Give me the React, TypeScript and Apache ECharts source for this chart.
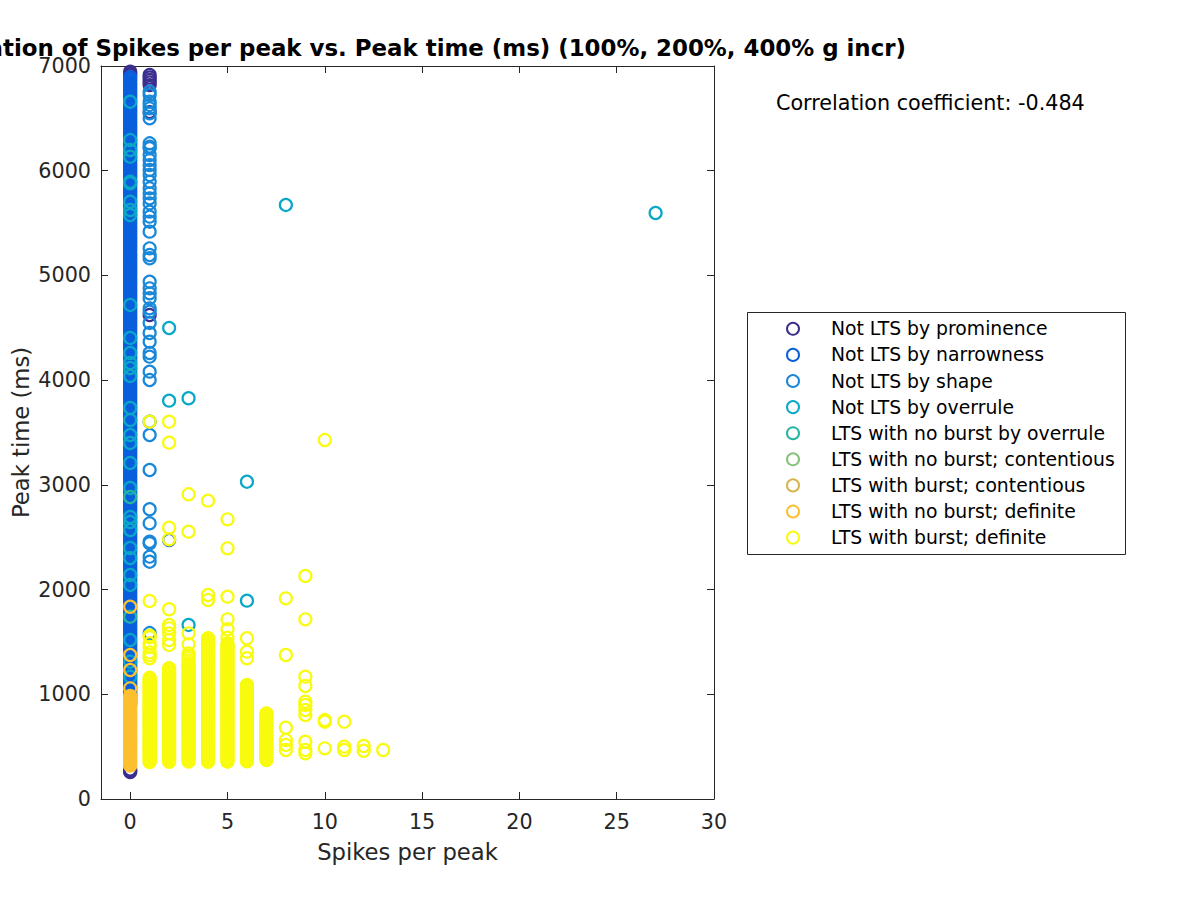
import React, { useEffect, useRef } from "react";
import * as echarts from "echarts";

const FONT = "DejaVu Sans";

const titleText =
  "Correlation of Spikes per peak vs. Peak time (ms) (100%, 200%, 400% g incr)";
const xLabel = "Spikes per peak";
const yLabel = "Peak time (ms)";
const corrText = "Correlation coefficient: -0.484";

const xTicks = [0, 5, 10, 15, 20, 25, 30];

const seriesNames = [
  "Not LTS by prominence",
  "Not LTS by narrowness",
  "Not LTS by shape",
  "Not LTS by overrule",
  "LTS with no burst by overrule",
  "LTS with no burst; contentious",
  "LTS with burst; contentious",
  "LTS with no burst; definite",
  "LTS with burst; definite",
];
const seriesColors = [
  "#3a2e8f",
  "#0a5fdd",
  "#1a88d8",
  "#0aa8c8",
  "#25b5a2",
  "#85c27a",
  "#d7b54b",
  "#fcc030",
  "#f9fb0e",
];

// [spikes per peak, peak time (ms)]
const prominencePoints = [
  [0, 6945], [0, 6928], [0, 6912], [0, 282], [0, 268], [0, 258],
  [1, 6914], [1, 6890], [1, 6866], [1, 6842], [1, 6818], [1, 6560], [1, 4622],
];

const narrownessAtZero = [
  905, 938, 975, 1003, 1041, 1077, 1109, 1146, 1180, 1213, 1251, 1284, 1318, 1357,
  1390, 1422, 1461, 1495, 1530, 1566, 1599, 1636, 1671, 1704, 1742, 1778, 1811,
  1849, 1883, 1918, 1953, 1989, 2024, 2060, 2093, 2131, 2165, 2199, 2236, 2271,
  2306, 2343, 2377, 2410, 2448, 2483, 2519, 2553, 2589, 2624, 2660, 2695, 2729,
  2767, 2801, 2836, 2872, 2907, 2942, 2978, 3012, 3049, 3083, 3118, 3155, 3189,
  3224, 3261, 3295, 3330, 3366, 3401, 3437, 3471, 3507, 3542, 3578, 3612, 3648,
  3684, 3718, 3754, 3789, 3824, 3860, 3895, 3930, 3965, 4001, 4036, 4071, 4107,
  4142, 4177, 4213, 4248, 4283, 4319, 4354, 4389, 4425, 4460, 4495, 4531, 4566,
  4601, 4637, 4672, 4707, 4743, 4778, 4813, 4849, 4884, 4919, 4955, 4990, 5025,
  5061, 5096, 5131, 5167, 5202, 5237, 5273, 5308, 5343, 5379, 5414, 5449, 5485,
  5520, 5555, 5591, 5626, 5661, 5697, 5732, 5767, 5803, 5838, 5873, 5909, 5944,
  5979, 6015, 6050, 6085, 6121, 6156, 6191, 6227, 6262, 6297, 6333, 6368, 6403,
  6439, 6474, 6509, 6545, 6580, 6615, 6651, 6686, 6721, 6757, 6792, 6827, 6863,
  6893,
];
const narrownessAtZeroMore = [
  922, 957, 990, 1022, 1059, 1093, 1128, 1163, 1196, 1232, 1267, 1301, 1338, 1373,
  1406, 1441, 1478, 1512, 1548, 1583, 1617, 1653, 1688, 1723, 1760, 1794, 1830,
  1866, 1900, 1936, 1971, 2006, 2042, 2076, 2112, 2148, 2182, 2218, 2253, 2289,
  2325, 2360, 2394, 2429, 2466, 2501, 2536, 2571, 2606, 2642, 2677, 2712, 2748,
  2784, 2819, 2854, 2889, 2925, 2960, 2995, 3031, 3066, 3101, 3137, 3172, 3207,
  3243, 3278, 3313, 3348, 3384, 3419, 3454, 3489, 3525, 3560, 3595, 3630, 3666,
  3701, 3736, 3771, 3807, 3842, 3877, 3912, 3948, 3983, 4018, 4054, 4089, 4124,
  4160, 4195, 4230, 4266, 4301, 4336, 4372, 4407, 4442, 4478, 4513, 4548, 4584,
  4619, 4654, 4690, 4725, 4760, 4796, 4831, 4866, 4902, 4937, 4972, 5008, 5043,
  5078, 5114, 5149, 5184, 5220, 5255, 5290, 5326, 5361, 5396, 5432, 5467, 5502,
  5538, 5573, 5608, 5644, 5679, 5714, 5750, 5785, 5820, 5856, 5891, 5926, 5962,
  5997, 6032, 6068, 6103, 6138, 6174, 6209, 6244, 6280, 6315, 6350, 6386, 6421,
  6456, 6492, 6527, 6562, 6598, 6633, 6668, 6704, 6739, 6774, 6810, 6845, 6878,
];
const narrownessOther = [[2, 2473]];

const shapeAtOne = [
  6755, 6723, 6659, 6628, 6596, 6548, 6500, 6262, 6230, 6214, 6150, 6102, 6054,
  6007, 5959, 5895, 5832, 5784, 5736, 5688, 5609, 5561, 5513, 5418, 5259, 5195,
  5164, 4940, 4877, 4829, 4782, 4686, 4654, 4546, 4450, 4367, 4259, 4224, 4081,
  4001, 3603, 3476, 3142, 2767, 2633, 2457, 2442, 2314, 2266, 1585,
];

const overrulePoints = [
  [0, 6659], [0, 6293], [0, 6198], [0, 6134], [0, 5895], [0, 5880], [0, 5704],
  [0, 5625], [0, 5577], [0, 4718], [0, 4403], [0, 4259], [0, 4164], [0, 4116],
  [0, 4040], [0, 3734], [0, 3619], [0, 3476], [0, 3400], [0, 3209], [0, 2970],
  [0, 2693], [0, 2645], [0, 2569], [0, 2397], [0, 2301], [0, 2139], [0, 2044],
  [0, 1518], [0, 1311], [0, 1168], [2, 4498], [2, 3804], [3, 3827], [3, 1662],
  [6, 3030], [6, 1894], [8, 5673], [27, 5596],
];

const noBurstOverrulePoints = [[0, 2884], [0, 1741]];
const noBurstContentiousPoints: number[][] = [];
const burstContentiousPoints: number[][] = [];

const noBurstDefiniteAtZero = [
  318, 331, 345, 358, 372, 386, 401, 414, 428, 441, 455, 470, 486, 499, 512, 526,
  540, 555, 569, 583, 597, 610, 624, 638, 652, 666, 681, 694, 708, 722, 736, 750,
  765, 779, 793, 806, 820, 834, 848, 862, 877, 891, 905, 919, 933, 947, 962, 974,
  985, 1057, 1232, 1375, 1836,
];

const burstDefiniteAt1 = [
  3603, 1891, 1560, 1545, 1488, 1452, 1400, 1372, 1344, 1159, 1143, 1127, 1115,
  1104, 1088, 1072, 1060, 1049, 1032, 1016, 1004, 992, 976, 960, 948, 937, 920,
  903, 891, 879, 863, 848, 837, 826, 808, 791, 779, 768, 752, 736, 724, 712, 696,
  680, 668, 657, 640, 624, 612, 601, 585, 569, 558, 547, 530, 512, 500, 488, 475,
  463, 447, 431, 420, 409, 393, 377, 364, 352,
];
const burstDefiniteAt2 = [
  3603, 3403, 2591, 2480, 1812, 1662, 1630, 1582, 1518, 1471, 1250, 1236, 1221,
  1207, 1193, 1179, 1165, 1150, 1137, 1124, 1110, 1096, 1082, 1068, 1054, 1041,
  1026, 1012, 998, 985, 971, 958, 944, 930, 916, 903, 889, 875, 861, 847, 833,
  820, 805, 791, 778, 766, 751, 737, 723, 709, 696, 684, 669, 655, 641, 628, 614,
  600, 586, 573, 559, 545, 532, 519, 504, 490, 478, 466, 451, 437, 423, 410, 396,
  382, 368, 355,
];
const burstDefiniteAt3 = [
  2910, 2553, 1582, 1477, 1391, 1368, 1346, 1320, 1296, 1280, 1264, 1246, 1228,
  1212, 1196, 1180, 1163, 1147, 1131, 1116, 1102, 1085, 1068, 1052, 1037, 1023,
  1009, 993, 977, 962, 948, 932, 916, 900, 884, 868, 853, 838, 824, 808, 792, 776,
  760, 745, 731, 715, 700, 684, 668, 652, 637, 622, 608, 592, 577, 561, 545, 530,
  514, 498, 483, 468, 454, 437, 421, 405, 390, 374, 358,
];
const burstDefiniteAt4 = [
  2849, 1948, 1900, 1535, 1519, 1503, 1485, 1468, 1452, 1437, 1419, 1401, 1387,
  1372, 1355, 1338, 1321, 1305, 1288, 1271, 1256, 1240, 1223, 1207, 1190, 1173,
  1157, 1142, 1125, 1109, 1093, 1078, 1060, 1043, 1027, 1012, 995, 979, 963, 947,
  930, 914, 897, 881, 866, 852, 834, 818, 801, 785, 769, 754, 737, 721, 705, 690,
  673, 657, 640, 624, 608, 593, 577, 561, 544, 528, 512, 497, 480, 464, 448, 432,
  416, 401, 385, 369, 355,
];
const burstDefiniteAt5 = [
  2671, 2394, 1932, 1716, 1621, 1540, 1487, 1471, 1455, 1438, 1421, 1405, 1389,
  1372, 1356, 1340, 1324, 1307, 1291, 1275, 1258, 1242, 1226, 1210, 1194, 1177,
  1160, 1143, 1127, 1111, 1096, 1079, 1063, 1047, 1031, 1014, 998, 982, 966, 949,
  933, 917, 901, 884, 868, 852, 836, 819, 803, 786, 770, 754, 739, 722, 706, 690,
  674, 657, 641, 625, 609, 592, 576, 560, 544, 527, 511, 495, 479, 462, 446, 430,
  414, 397, 381, 368, 356,
];
const burstDefiniteAt6 = [
  1535, 1407, 1344, 1089, 1073, 1058, 1042, 1026, 1010, 994, 979, 963, 947, 931,
  915, 899, 882, 866, 850, 835, 818, 803, 787, 771, 755, 740, 723, 707, 691, 676,
  660, 644, 628, 612, 596, 580, 564, 548, 532, 517, 501, 485, 469, 453, 437, 421,
  405, 389, 374, 360,
];
const burstDefiniteAt7 = [
  818, 802, 786, 768, 751, 735, 718, 704, 690, 674, 658, 640, 622, 606, 590, 573,
  557, 540, 524, 508, 493, 477, 461, 446, 430, 414, 398, 384, 372,
];
const burstDefiniteSparse = [
  [8, 1916], [8, 1375], [8, 681], [8, 563], [8, 516], [8, 468],
  [9, 2130], [9, 1716], [9, 1168], [9, 1079], [9, 929], [9, 898], [9, 850],
  [9, 802], [9, 547], [9, 468], [9, 436],
  [10, 3428], [10, 754], [10, 738], [10, 484],
  [11, 738], [11, 500], [11, 468],
  [12, 506], [12, 461],
  [13, 468],
];

const col = (x: number, ys: number[]) => ys.map((y) => [x, y]);

export default function App() {
  const ref = useRef<HTMLDivElement>(null);

  useEffect(() => {
    if (!ref.current) return;
    const chart = echarts.init(ref.current, undefined, { renderer: "svg" });

    const seriesData: number[][][] = [
      prominencePoints,
      [...col(0, narrownessAtZero), ...col(0, narrownessAtZeroMore), ...narrownessOther],
      col(1, shapeAtOne),
      overrulePoints,
      noBurstOverrulePoints,
      noBurstContentiousPoints,
      burstContentiousPoints,
      col(0, noBurstDefiniteAtZero),
      [
        ...col(1, burstDefiniteAt1),
        ...col(2, burstDefiniteAt2),
        ...col(3, burstDefiniteAt3),
        ...col(4, burstDefiniteAt4),
        ...col(5, burstDefiniteAt5),
        ...col(6, burstDefiniteAt6),
        ...col(7, burstDefiniteAt7),
        ...burstDefiniteSparse,
      ],
    ];

    const axisColor = "#262626";

    const option: any = {
      animation: false,
      backgroundColor: "#ffffff",
      textStyle: { fontFamily: FONT },
      grid: { left: 101, top: 66, right: 486, bottom: 101, containLabel: false },
      xAxis: [
        {
          type: "value",
          position: "bottom",
          min: -1.5,
          max: 30,
          axisLine: { show: true, onZero: false, lineStyle: { color: axisColor, width: 1 } },
          axisTick: { show: true, inside: true, length: 7, customValues: xTicks, lineStyle: { color: axisColor } },
          axisLabel: {
            show: true,
            customValues: xTicks,
            margin: 12,
            fontSize: 20.7,
            fontFamily: FONT,
            color: axisColor,
          },
          splitLine: { show: false },
        },
        {
          type: "value",
          position: "top",
          min: -1.5,
          max: 30,
          axisLine: { show: true, onZero: false, lineStyle: { color: axisColor, width: 1 } },
          axisTick: { show: true, inside: true, length: 7, customValues: xTicks, lineStyle: { color: axisColor } },
          axisLabel: { show: false },
          splitLine: { show: false },
        },
      ],
      yAxis: [
        {
          type: "value",
          position: "left",
          min: 0,
          max: 7000,
          interval: 1000,
          axisLine: { show: true, onZero: false, lineStyle: { color: axisColor, width: 1 } },
          axisTick: { show: true, inside: true, length: 7, lineStyle: { color: axisColor } },
          axisLabel: {
            show: true,
            margin: 10,
            fontSize: 20.7,
            fontFamily: FONT,
            color: axisColor,
            formatter: (v: number) => String(v),
          },
          splitLine: { show: false },
        },
        {
          type: "value",
          position: "right",
          min: 0,
          max: 7000,
          interval: 1000,
          axisLine: { show: true, onZero: false, lineStyle: { color: axisColor, width: 1 } },
          axisTick: { show: true, inside: true, length: 7, lineStyle: { color: axisColor } },
          axisLabel: { show: false },
          splitLine: { show: false },
        },
      ],
      legend: {
        orient: "vertical",
        left: 786,
        top: 319.3,
        itemWidth: 66,
        itemHeight: 12,
        itemGap: 7.1,
        padding: 0,
        selectedMode: false,
        z: 5,
        textStyle: { fontSize: 18.8, lineHeight: 18, color: "#000000", fontFamily: FONT },
        data: seriesNames.map((name, i) => ({
          name,
          icon: "circle",
          itemStyle: { color: "rgba(0,0,0,0)", borderColor: seriesColors[i], borderWidth: 2 },
        })),
      },
      graphic: [
        {
          type: "rect",
          z: 1,
          shape: { x: 747.5, y: 312.5, width: 378, height: 242 },
          style: { fill: "none", stroke: "#262626", lineWidth: 1 },
        },
        {
          type: "text",
          x: 407.5,
          y: 48,
          style: {
            text: titleText,
            font: `bold 22.9px "${FONT}"`,
            fill: "#000000",
            textAlign: "center",
            textVerticalAlign: "middle",
          },
        },
        {
          type: "text",
          x: 776,
          y: 103,
          style: {
            text: corrText,
            font: `20.7px "${FONT}"`,
            fill: "#000000",
            textAlign: "left",
            textVerticalAlign: "middle",
          },
        },
        {
          type: "text",
          x: 407.5,
          y: 852,
          style: {
            text: xLabel,
            font: `22.7px "${FONT}"`,
            fill: axisColor,
            textAlign: "center",
            textVerticalAlign: "middle",
          },
        },
        {
          type: "text",
          x: 21,
          y: 432.5,
          rotation: Math.PI / 2,
          style: {
            text: yLabel,
            font: `22.7px "${FONT}"`,
            fill: axisColor,
            textAlign: "center",
            textVerticalAlign: "middle",
          },
        },
      ],
      series: seriesNames.map((name, i) => ({
        name,
        type: "scatter",
        xAxisIndex: 0,
        yAxisIndex: 0,
        symbol: "circle",
        symbolSize: 12,
        silent: true,
        clip: true,
        itemStyle: {
          color: "rgba(0,0,0,0)",
          borderColor: seriesColors[i],
          borderWidth: 2.2,
          opacity: 1,
        },
        emphasis: { disabled: true },
        data: seriesData[i],
      })),
    };

    chart.setOption(option);
    return () => chart.dispose();
  }, []);

  return (
    <div
      ref={ref}
      style={{ position: "absolute", left: 0, top: 0, width: 1200, height: 900, background: "#fff" }}
    />
  );
}
